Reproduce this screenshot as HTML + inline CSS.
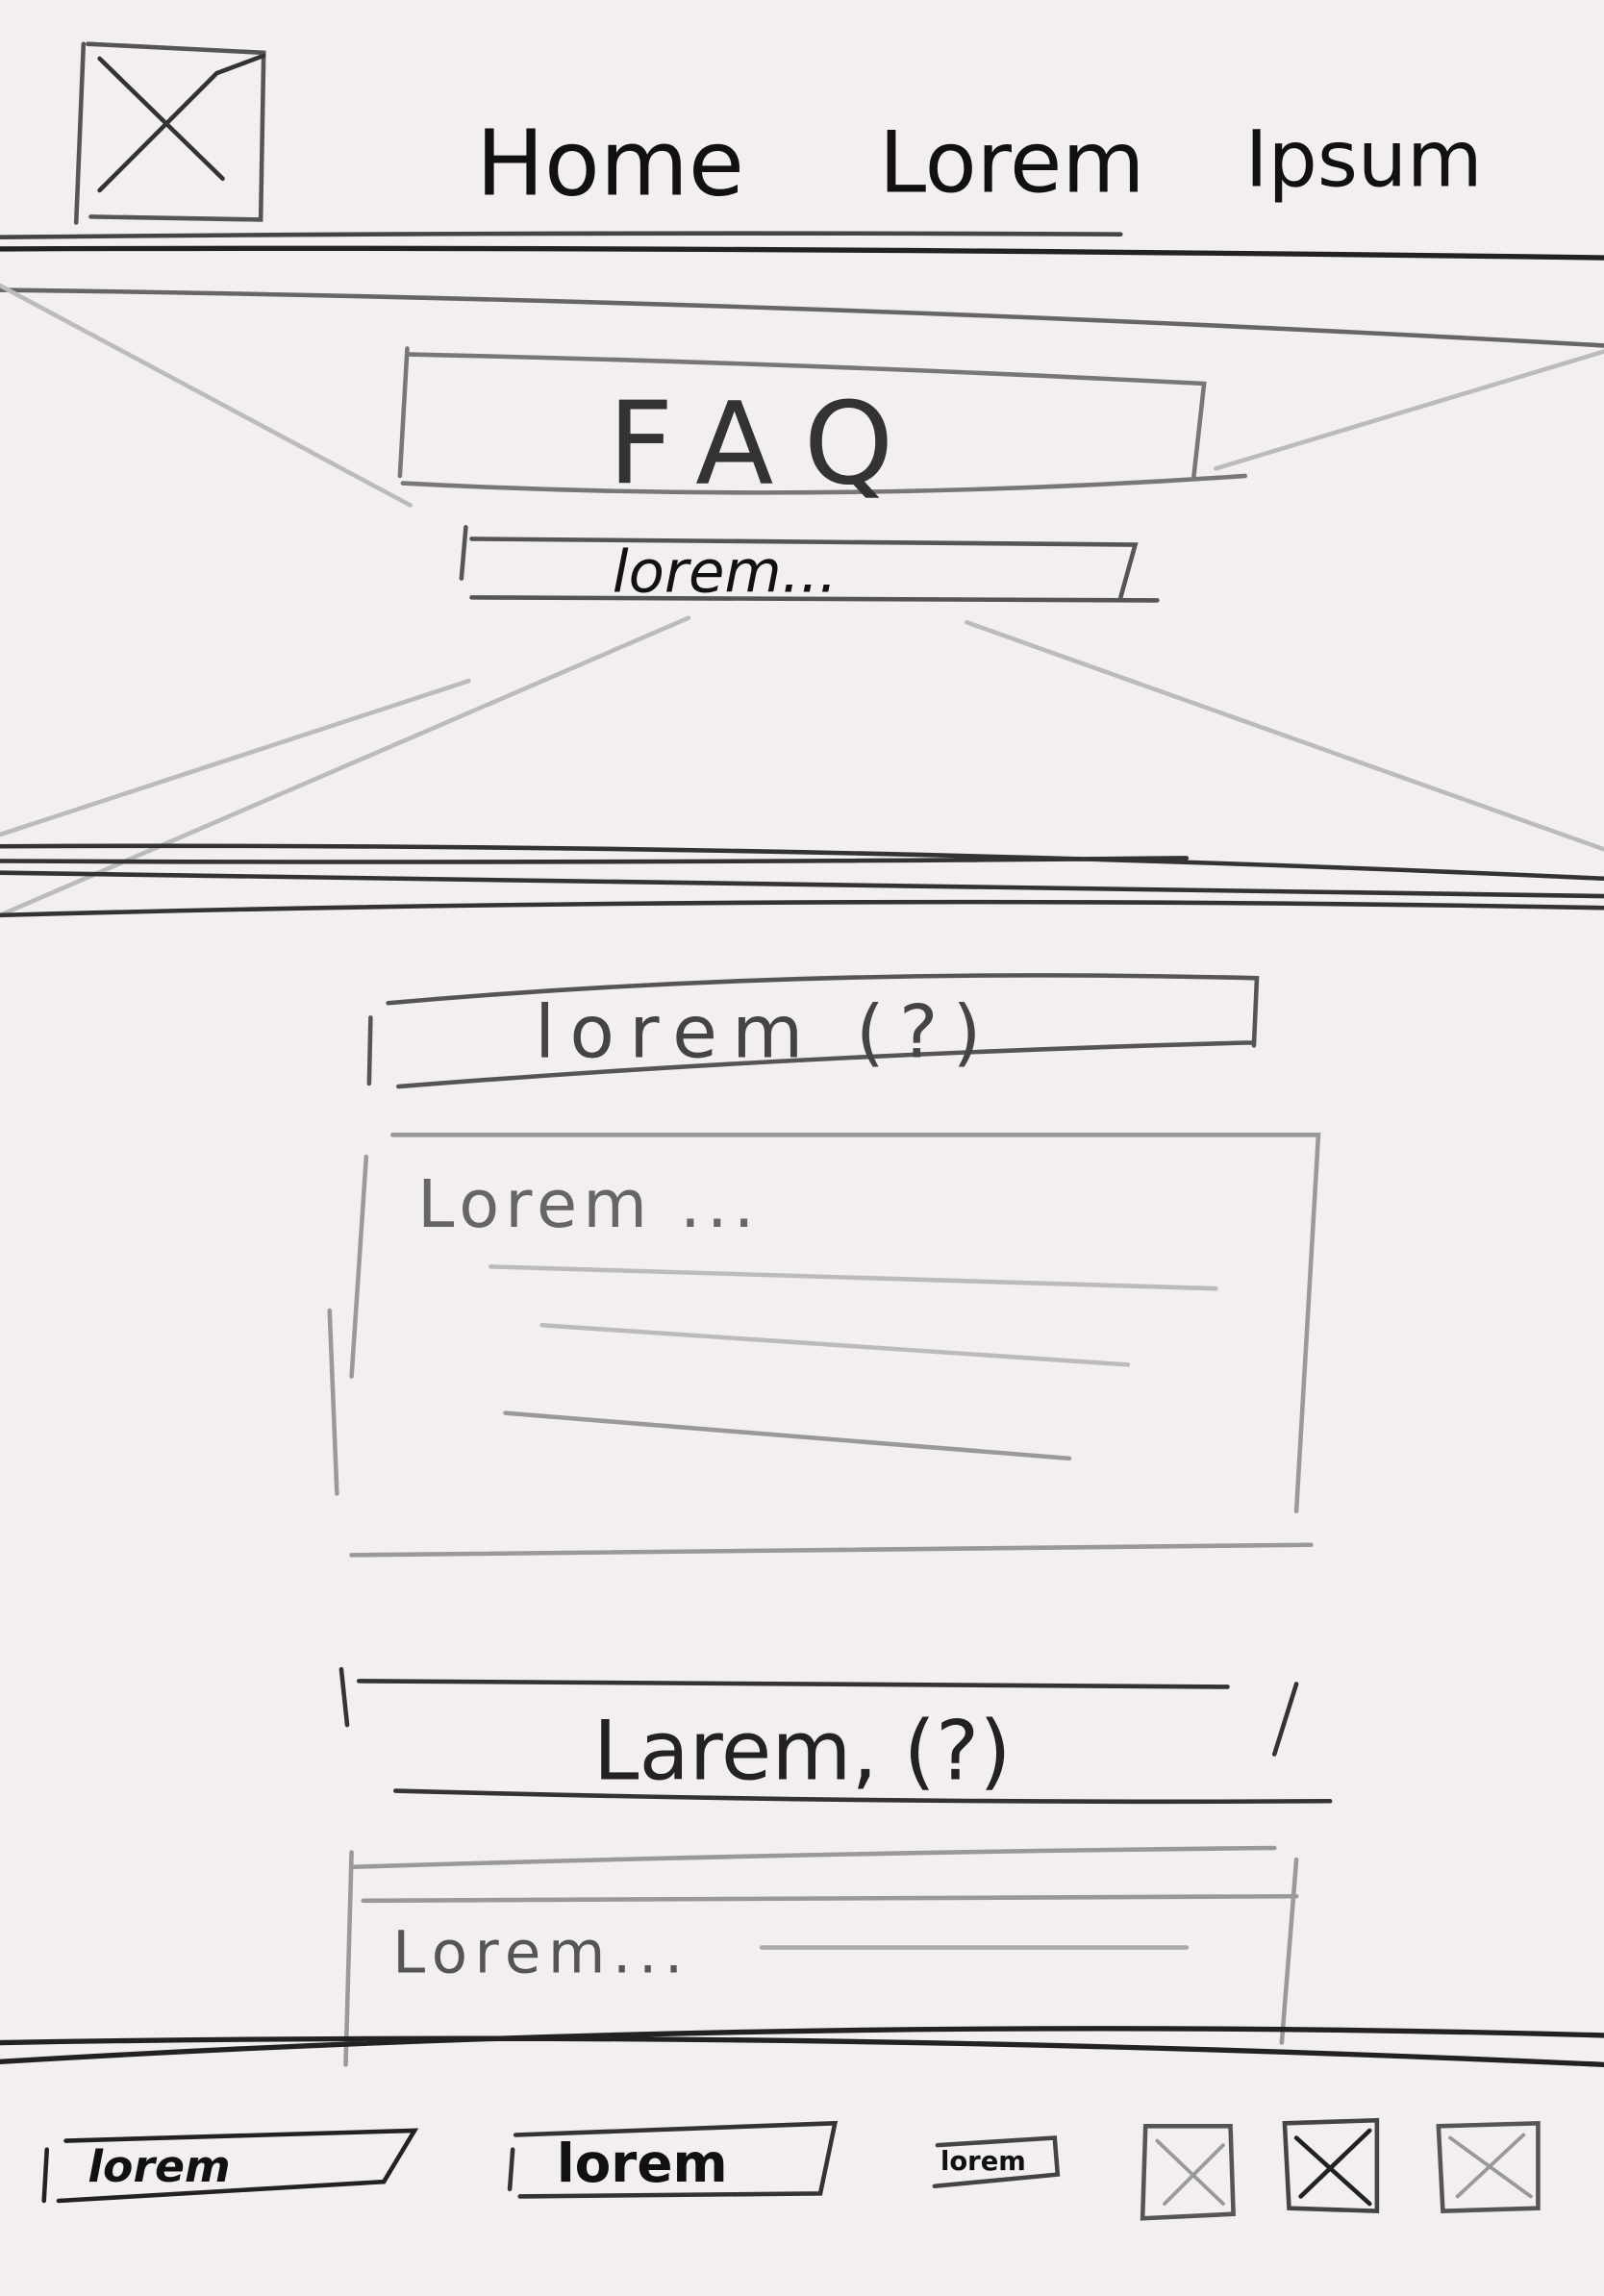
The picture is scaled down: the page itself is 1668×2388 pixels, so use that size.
<!DOCTYPE html>
<html><head><meta charset="utf-8"><style>
html,body{margin:0;padding:0;background:#f2efee;}
svg{display:block;}
text{font-family:"DejaVu Sans","Liberation Sans",sans-serif;}
</style></head><body>
<svg width="1668" height="2388" viewBox="0 0 1095 1568" preserveAspectRatio="none" xmlns="http://www.w3.org/2000/svg">
<rect width="1095" height="1568" fill="#f2efee"/>
<g fill="none" stroke-linecap="round">
<path d="M57 30 L52 152 M60 30 L180 36 L178 150 L62 148" stroke="#555" stroke-width="3"/>
<path d="M68 40 L152 122 M68 130 L148 50 L180 38" stroke="#333" stroke-width="3"/>
<path d="M0 162 Q380 158 765 160" stroke="#444" stroke-width="3"/>
<path d="M0 170 Q500 168 1095 176" stroke="#222" stroke-width="3.5"/>
<path d="M0 198 Q550 205 1095 236" stroke="#666" stroke-width="3"/>
<path d="M0 195 L280 345 M660 425 L1095 580 M1095 240 L830 320 M470 422 L0 625 M0 570 L320 465" stroke="#bbb" stroke-width="3"/>
<path d="M0 578 Q550 575 1095 600 M0 596 Q500 605 1095 612 M0 625 Q550 610 1095 620 M0 588 Q400 590 810 586" stroke="#333" stroke-width="3"/>
<path d="M278 238 L273 325 M280 242 Q550 248 822 262 L815 325 M275 330 Q560 345 850 325" stroke="#777" stroke-width="3"/>
<path d="M318 360 L315 395 M322 368 L775 372 L765 408 M322 408 Q550 410 790 410" stroke="#555" stroke-width="3"/>
<path d="M253 695 L252 740 M265 685 Q550 660 858 668 L856 714 M272 742 Q550 720 855 712" stroke="#555" stroke-width="3"/>
<path d="M268 775 L900 775 L885 1032 M250 790 L240 940 M225 895 L230 1020 M240 1062 L895 1055" stroke="#999" stroke-width="3"/>
<path d="M335 865 L830 880 M370 905 L770 932" stroke="#bbb" stroke-width="3"/>
<path d="M345 965 L730 996" stroke="#999" stroke-width="3"/>
<path d="M233 1140 L237 1178 M245 1148 Q550 1150 838 1152 M885 1150 L870 1198 M270 1223 Q600 1232 908 1230" stroke="#333" stroke-width="3"/>
<path d="M240 1275 Q560 1265 870 1262 M248 1298 L885 1295 M240 1265 L236 1410 M885 1270 L875 1395" stroke="#999" stroke-width="3"/>
<path d="M520 1330 L810 1330" stroke="#aaa" stroke-width="3"/>
<path d="M0 1408 Q550 1375 1095 1390 M0 1395 Q550 1385 1095 1410" stroke="#222" stroke-width="3.5"/>
<path d="M32 1468 L30 1503 M45 1462 L283 1455 L262 1490 L40 1503" stroke="#222" stroke-width="3"/>
<path d="M350 1468 L348 1495 M352 1458 L570 1450 L560 1498 L355 1500" stroke="#333" stroke-width="3"/>
<path d="M640 1465 L720 1460 L722 1485 L638 1493" stroke="#444" stroke-width="3"/>
<path d="M782 1452 L840 1452 L842 1512 L780 1515 Z" stroke="#555" stroke-width="3"/>
<path d="M790 1462 L835 1505 M835 1465 L795 1505" stroke="#999" stroke-width="2.5"/>
<path d="M877 1450 L940 1448 L940 1510 L880 1508 Z" stroke="#444" stroke-width="3"/>
<path d="M885 1460 L935 1505 M935 1455 L888 1500" stroke="#222" stroke-width="3"/>
<path d="M982 1452 L1050 1450 L1050 1508 L985 1510 Z" stroke="#555" stroke-width="3"/>
<path d="M990 1460 L1045 1500 M1040 1458 L995 1500" stroke="#999" stroke-width="2.5"/>
</g>
<g fill="#111">
<text x="325" y="133" font-size="62">Home</text>
<text x="600" y="131" font-size="58">Lorem</text>
<text x="850" y="127" font-size="53">Ipsum</text>
<text x="415" y="330" font-size="78" fill="#333" letter-spacing="22">FAQ</text>
<text x="418" y="404" font-size="40" font-style="italic">lorem...</text>
<text x="365" y="722" font-size="50" fill="#444" letter-spacing="10">lorem (?)</text>
<text x="285" y="838" font-size="45" fill="#666" letter-spacing="4">Lorem ...</text>
<text x="405" y="1215" font-size="56" fill="#222">Larem, (?)</text>
<text x="268" y="1347" font-size="40" fill="#555" letter-spacing="5">Lorem...</text>
<text x="60" y="1490" font-size="30" font-style="italic" font-weight="bold">lorem</text>
<text x="380" y="1490" font-size="36" font-weight="bold">lorem</text>
<text x="642" y="1482" font-size="18" font-weight="bold">lorem</text>
</g>
</svg>
</body></html>
